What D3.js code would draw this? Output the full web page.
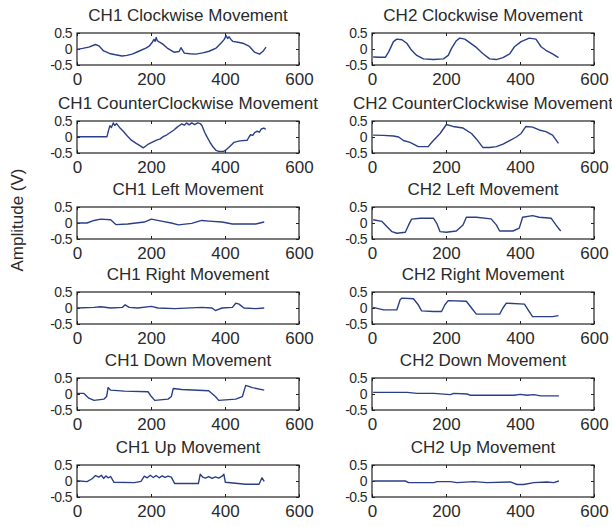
<!DOCTYPE html>
<html>
<head>
<meta charset="utf-8">
<script src="https://cdn.jsdelivr.net/npm/d3@7"></script>
<style>
  body { margin: 0; background: #fff; }
  text { font-family: "Liberation Sans", Arial, sans-serif; fill: #2a2a2a; }
  .title { font-size: 17px; text-anchor: middle; }
  .xaxis text { font-size: 17px; }
  .yaxis text { font-size: 14px; letter-spacing: -0.6px; }
  .domain { display: none; }
  .tick line { stroke: #222; }
  .frame { fill: none; stroke: #222; stroke-width: 1.2; }
  .trace { fill: none; stroke: #2a3f88; stroke-width: 1.4; stroke-linejoin: round; }
</style>
</head>
<body>
<div id="chart"></div>
<script>
// values, [sample, amplitude]
const ch1Clockwise = [[0,-0.01],[15,0.02],[32,0.06],[50,0.14],[59,0.1],[72,-0.06],[88,-0.14],[104,-0.18],[122,-0.22],[135,-0.2],[149,-0.16],[167,-0.07],[186,0.03],[196,0.1],[204,0.22],[208,0.3],[211,0.24],[214,0.36],[217,0.26],[222,0.22],[231,0.16],[244,0.03],[262,-0.1],[276,-0.08],[281,0.04],[290,-0.13],[305,-0.15],[321,-0.16],[340,-0.12],[357,-0.07],[376,0.03],[389,0.18],[398,0.3],[403,0.42],[407,0.33],[411,0.38],[416,0.3],[421,0.24],[435,0.21],[448,0.18],[466,0.08],[480,-0.1],[493,-0.16],[502,-0.08],[511,0.06]];
const ch2Clockwise = [[3,-0.25],[20,-0.26],[36,-0.26],[45,-0.09],[58,0.23],[67,0.31],[81,0.29],[94,0.18],[107,-0.04],[121,-0.2],[139,-0.31],[166,-0.33],[193,-0.31],[206,-0.2],[215,0.02],[228,0.26],[237,0.34],[251,0.31],[264,0.2],[282,0.05],[300,-0.15],[318,-0.31],[336,-0.33],[354,-0.27],[372,-0.15],[385,0.07],[403,0.23],[425,0.34],[443,0.31],[457,0.07],[470,-0.04],[488,-0.15],[504,-0.27]];
const ch1Counter = [[0,0.01],[40,0.01],[81,0.01],[85,0.2],[89,0.35],[93,0.3],[98,0.44],[102,0.36],[107,0.42],[115,0.3],[125,0.18],[136,0.03],[147,-0.1],[160,-0.2],[170,-0.27],[179,-0.34],[186,-0.28],[193,-0.22],[205,-0.15],[215,-0.1],[225,-0.06],[233,0.01],[243,0.07],[252,0.14],[262,0.22],[270,0.3],[277,0.36],[283,0.41],[290,0.37],[296,0.44],[303,0.38],[310,0.44],[318,0.39],[326,0.44],[333,0.42],[338,0.35],[345,0.15],[351,0.01],[360,-0.18],[369,-0.33],[376,-0.42],[383,-0.45],[396,-0.45],[403,-0.4],[410,-0.33],[424,-0.17],[440,-0.12],[460,-0.1],[465,0.0],[469,0.07],[475,0.05],[480,0.14],[487,0.18],[493,0.15],[498,0.25],[505,0.28],[510,0.24]];
const ch2Counter = [[3,0.06],[30,0.05],[58,0.03],[72,0.0],[85,-0.11],[103,-0.17],[112,-0.22],[125,-0.3],[152,-0.3],[161,-0.17],[175,0.0],[184,0.11],[201,0.39],[219,0.33],[246,0.28],[269,0.11],[282,-0.06],[300,-0.33],[318,-0.33],[336,-0.3],[354,-0.22],[372,-0.11],[390,0.0],[403,0.11],[416,0.33],[434,0.31],[452,0.22],[470,0.17],[488,0.06],[504,-0.2]];
const ch1Left = [[0,0.0],[27,0.0],[46,0.08],[64,0.12],[91,0.1],[105,-0.05],[137,-0.03],[182,0.03],[201,0.12],[228,0.06],[255,0.0],[274,-0.06],[310,-0.01],[337,0.08],[356,0.06],[392,0.03],[420,-0.03],[483,-0.03],[506,0.03]];
const ch2Left = [[3,0.1],[27,0.05],[40,-0.11],[54,-0.27],[67,-0.32],[90,-0.29],[99,-0.06],[107,0.12],[130,0.15],[166,0.15],[175,-0.01],[184,-0.27],[201,-0.29],[228,-0.25],[246,-0.06],[255,0.18],[282,0.18],[322,0.13],[336,-0.06],[345,-0.25],[381,-0.25],[398,-0.16],[407,0.18],[434,0.23],[452,0.18],[484,0.15],[497,-0.06],[510,-0.25]];
const ch1Right = [[0,0.0],[46,0.02],[64,0.04],[91,0.0],[123,0.02],[130,0.1],[141,0.02],[164,0.0],[201,0.05],[219,0.0],[264,-0.02],[337,0.02],[365,0.0],[374,-0.08],[392,0.0],[420,0.02],[429,0.15],[438,0.12],[451,0.0],[483,-0.02],[506,0.0]];
const ch2Right = [[3,0.02],[31,-0.06],[67,-0.06],[76,0.26],[81,0.31],[112,0.29],[125,0.1],[134,-0.09],[166,-0.11],[188,-0.11],[197,0.1],[206,0.23],[255,0.21],[269,0.0],[282,-0.19],[345,-0.19],[354,0.0],[363,0.15],[412,0.12],[425,-0.11],[434,-0.27],[488,-0.27],[504,-0.24]];
const ch1Down = [[0,0.02],[18,0.02],[32,-0.13],[46,-0.2],[73,-0.16],[80,-0.08],[84,0.2],[91,0.12],[128,0.09],[192,0.07],[201,-0.08],[210,-0.2],[246,-0.16],[255,-0.08],[260,0.17],[283,0.14],[356,0.1],[374,-0.08],[383,-0.2],[429,-0.16],[447,-0.08],[456,0.27],[474,0.2],[506,0.12]];
const ch2Down = [[3,0.05],[95,0.05],[122,0.02],[167,0.02],[212,-0.02],[221,0.02],[257,0.0],[266,-0.04],[383,-0.04],[401,-0.01],[419,-0.04],[437,-0.02],[456,-0.06],[505,-0.06]];
const ch1Up = [[0,0.01],[27,-0.02],[41,0.07],[50,0.17],[59,0.12],[66,0.18],[72,0.08],[78,0.16],[84,0.1],[91,0.14],[100,-0.04],[155,-0.05],[173,-0.01],[182,0.15],[190,0.1],[198,0.18],[206,0.11],[214,0.17],[222,0.1],[230,0.16],[238,0.11],[246,0.15],[255,0.12],[264,-0.08],[328,-0.08],[333,0.21],[340,0.12],[347,0.09],[356,0.14],[365,0.08],[374,0.13],[383,0.09],[392,0.15],[397,0.21],[401,-0.04],[456,-0.1],[492,-0.1],[500,0.1],[506,-0.01]];
const ch2Up = [[3,0.0],[90,0.0],[99,-0.05],[167,-0.05],[176,-0.02],[212,-0.02],[230,-0.05],[275,-0.02],[311,-0.05],[374,-0.03],[392,-0.11],[410,-0.11],[437,-0.05],[473,-0.03],[491,-0.05],[505,0.0]];

const titles = [
  ["CH1 Clockwise Movement", "CH2 Clockwise Movement"],
  ["CH1 CounterClockwise Movement", "CH2 CounterClockwise Movement"],
  ["CH1 Left Movement", "CH2 Left Movement"],
  ["CH1 Right Movement", "CH2 Right Movement"],
  ["CH1 Down Movement", "CH2 Down Movement"],
  ["CH1 Up Movement", "CH2 Up Movement"]
];
const series = [
  [ch1Clockwise, ch2Clockwise],
  [ch1Counter, ch2Counter],
  [ch1Left, ch2Left],
  [ch1Right, ch2Right],
  [ch1Down, ch2Down],
  [ch1Up, ch2Up]
];
const xTicks = [0, 200, 400, 600];
const yTicks = [-0.5, 0, 0.5];
const yLabel = "Amplitude (V)";

// layout
const W = 612, H = 527;
const colLeft = [77, 372], panelW = 222, panelH = 32;
const rowTop = [33, 121, 207, 292, 378, 465];

const svg = d3.select("#chart").append("svg")
    .attr("width", W)
    .attr("height", H);

const fmt = d => String(d);

series.forEach((row, r) => {
  row.forEach((data, c) => {
    let g = svg.append("g")
        .attr("transform", "translate(" + colLeft[c] + "," + rowTop[r] + ")");

    let x = d3.scaleLinear().domain([0, 600]).range([0, panelW]);
    let y = d3.scaleLinear().domain([-0.5, 0.5]).range([panelH, 0]);

    // ticks point inward like matlab
    g.append("g").attr("class", "xaxis")
        .attr("transform", "translate(0," + panelH + ")")
        .call(d3.axisBottom(x).tickValues(xTicks).tickFormat(fmt).tickSizeInner(-3).tickSizeOuter(0).tickPadding(8));
    g.append("g")
        .call(d3.axisTop(x).tickValues(xTicks).tickFormat("").tickSizeInner(-3).tickSizeOuter(0));
    g.append("g").attr("class", "yaxis")
        .call(d3.axisLeft(y).tickValues(yTicks).tickFormat(fmt).tickSizeInner(-3).tickSizeOuter(0).tickPadding(5));
    g.append("g")
        .attr("transform", "translate(" + panelW + ",0)")
        .call(d3.axisRight(y).tickValues(yTicks).tickFormat("").tickSizeInner(-3).tickSizeOuter(0));

    let line = d3.line()
        .x(d => x(d[0]))
        .y(d => y(d[1]));

    g.append("path")
        .datum(data)
        .attr("class", "trace")
        .attr("d", line);

    g.append("rect")
        .attr("class", "frame")
        .attr("width", panelW)
        .attr("height", panelH);

    g.append("text")
        .attr("class", "title")
        .attr("x", panelW / 2)
        .attr("y", -12)
        .text(titles[r][c]);
  });
});

svg.append("text")
    .attr("transform", "translate(23,220) rotate(-90)")
    .attr("text-anchor", "middle")
    .style("font-size", "17px")
    .text(yLabel);
</script>
</body>
</html>
